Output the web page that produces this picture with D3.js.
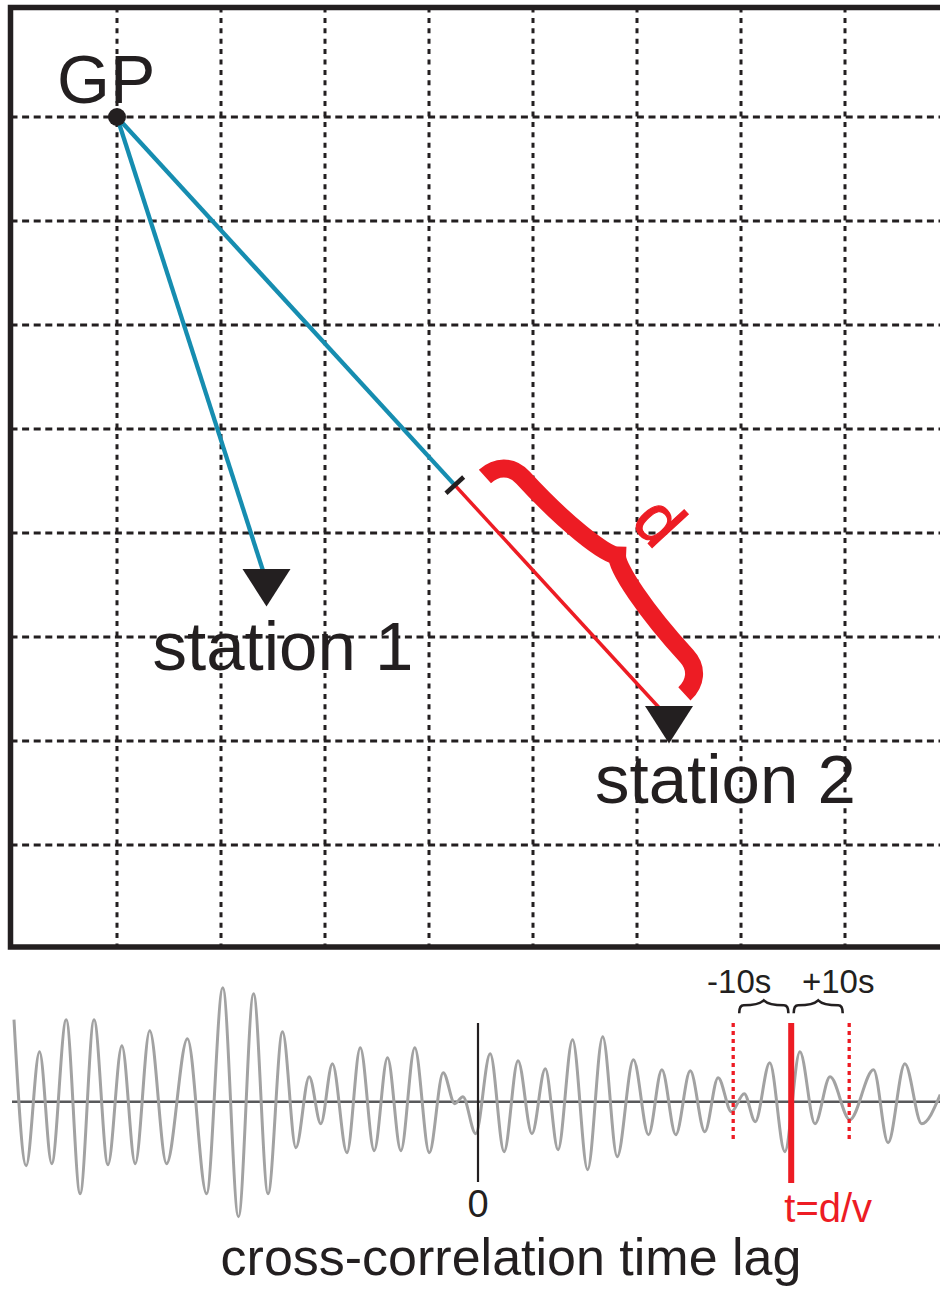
<!DOCTYPE html>
<html>
<head>
<meta charset="utf-8">
<script src="https://cdn.jsdelivr.net/npm/d3@7"></script>
<style>
  html, body { margin: 0; padding: 0; background: #fff; }
  svg { display: block; }
  text { font-family: "Liberation Sans", Arial, Helvetica, sans-serif; }
</style>
</head>
<body>
<svg id="chart" width="940" height="1289"></svg>
<script>
// ---------- data ----------
// map grid lines (grid units)
const gridLines = [1, 2, 3, 4, 5, 6, 7, 8];
// noise source (GP) position, grid units
const gpPos = [1, 1];
// stations, grid units
const stationNames = ["station 1", "station 2"];
const stationX = [2.4375, 6.3077];
const stationY = [5.4663, 6.7837];
// start of the extra path length d, as a fraction of the GP -> station 2 path
const dStartFrac = 0.612;

// cross-correlation trace: successive extrema (lag in s, normalised amplitude)
const peakLag = [-80.0, -77.9, -75.6, -73.5, -71.0, -68.6, -66.2, -63.8, -61.4, -59.1,
                 -56.6, -53.7, -50.1, -46.8, -44.0, -41.3, -38.7, -36.2, -33.7, -31.4,
                 -29.1, -27.1, -25.1, -22.6, -20.3, -17.9, -15.6, -13.3, -10.9, -8.4,
                 -6.0, -4.0, -2.6, -0.4, 2.1, 4.5, 6.9, 9.3, 11.6, 13.8,
                 16.3, 18.9, 21.5, 24.0, 26.8, 29.4, 31.7, 34.1, 36.6, 39.1,
                 41.4, 43.7, 45.9, 47.8, 50.3, 52.9, 55.5, 58.1, 60.7, 64.1,
                 68.2, 70.7, 73.6, 76.5, 79.7];
const peakAmp = [0.82, -0.64, 0.50, -0.62, 0.82, -0.92, 0.82, -0.63, 0.56, -0.62,
                 0.71, -0.62, 0.63, -0.92, 1.14, -1.15, 1.08, -0.92, 0.70, -0.46,
                 0.25, -0.22, 0.38, -0.51, 0.54, -0.49, 0.44, -0.49, 0.54, -0.51,
                 0.29, -0.02, 0.05, -0.32, 0.48, -0.50, 0.41, -0.32, 0.33, -0.48,
                 0.62, -0.68, 0.65, -0.55, 0.42, -0.33, 0.32, -0.33, 0.31, -0.30,
                 0.24, -0.10, 0.08, -0.20, 0.39, -0.50, 0.50, -0.22, 0.25, -0.18,
                 0.32, -0.41, 0.38, -0.22, 0.07];
const lagTickValues = [0];
const lagTickLabels = ["0"];
const travelLag = 54;     // t = d/v, seconds
const windowHalf = 10;    // search window, seconds
const windowLabels = ["-10s", "+10s"];

// ---------- styles ----------
const INK = "#231f20", RED = "#ed1c24", BLUE = "#168db0";

const svg = d3.select("#chart");
const W = 940;
svg.append("rect").attr("width", W).attr("height", 1289).attr("fill", "#fff");

// ---------- map panel ----------
const gx = d3.scaleLinear().domain([0, 9]).range([13, 949]);
const gy = d3.scaleLinear().domain([0, 9]).range([13, 949]);
const frame = { left: 10.5, top: 7.5, bottom: 947 };

const grid = svg.append("g").attr("stroke", INK).attr("stroke-width", 3);
grid.selectAll("line.v").data(gridLines).join("line")
  .attr("class", "v")
  .attr("x1", d => gx(d)).attr("x2", d => gx(d))
  .attr("y1", frame.top).attr("y2", frame.bottom)
  .attr("stroke-dasharray", "5,5.4");
grid.selectAll("line.h").data(gridLines).join("line")
  .attr("class", "h")
  .attr("y1", d => gy(d)).attr("y2", d => gy(d))
  .attr("x1", frame.left).attr("x2", W)
  .attr("stroke-dasharray", "7,4.6");

svg.append("path")
  .attr("d", `M${W},${frame.top}H${frame.left}V${frame.bottom}H${W}`)
  .attr("fill", "none").attr("stroke", INK).attr("stroke-width", 5.5);

const gp = [gx(gpPos[0]), gy(gpPos[1])];
const st = stationNames.map((n, i) => [gx(stationX[i]), gy(stationY[i])]);
const tick = [gp[0] + (st[1][0] - gp[0]) * dStartFrac, gp[1] + (st[1][1] - gp[1]) * dStartFrac];
const theta = Math.atan2(st[1][1] - gp[1], st[1][0] - gp[0]) * 180 / Math.PI;

// ray paths
svg.append("line")
  .attr("x1", gp[0]).attr("y1", gp[1]).attr("x2", st[0][0]).attr("y2", st[0][1])
  .attr("stroke", BLUE).attr("stroke-width", 4.3);
svg.append("line")
  .attr("x1", gp[0]).attr("y1", gp[1]).attr("x2", tick[0]).attr("y2", tick[1])
  .attr("stroke", BLUE).attr("stroke-width", 4.3);

// curly brace, drawn along x from 0 to L with the cusp raised by h (upwards = -y)
function bracePath(L, h) {
  const m = L / 2, r = 0.09 * L, a = 0.62 * h, k = 0.2 * h;
  return `M0,0C0,${-0.55 * a} ${0.35 * r},${-a} ${r},${-a}` +
         `C${r + 0.5 * (m - r)},${-a} ${m - k},${-(h - k)} ${m},${-h}` +
         `C${m + k},${-(h - k)} ${L - r - 0.5 * (m - r)},${-a} ${L - r},${-a}` +
         `C${L - 0.35 * r},${-a} ${L},${-0.55 * a} ${L},0`;
}

// extra distance d along station 2's path
const dLen = Math.hypot(st[1][0] - tick[0], st[1][1] - tick[1]);
const dg = svg.append("g").attr("transform", `translate(${tick[0]},${tick[1]}) rotate(${theta})`);
dg.append("line").attr("x1", 0).attr("y1", 0).attr("x2", dLen).attr("y2", 0)
  .attr("stroke", RED).attr("stroke-width", 3.5);
dg.append("line").attr("x1", 0).attr("y1", -12).attr("x2", 0).attr("y2", 12)
  .attr("stroke", INK).attr("stroke-width", 4.5);
dg.append("path")
  .attr("transform", "translate(14,-28)")
  .attr("d", bracePath(295, 44))
  .attr("fill", "none").attr("stroke", RED).attr("stroke-width", 18)
  .attr("stroke-linejoin", "miter").attr("stroke-miterlimit", 6);
dg.append("text")
  .attr("x", 165).attr("y", -103)
  .attr("text-anchor", "middle")
  .attr("font-size", 68).attr("fill", RED)
  .attr("stroke", RED).attr("stroke-width", 1.2)
  .text("d");

// station markers
const triW = 48, triH = 37.5;
svg.selectAll("path.station").data(st).join("path")
  .attr("class", "station")
  .attr("d", d => `M${d[0] - triW / 2},${d[1] - triH / 3}H${d[0] + triW / 2}L${d[0]},${d[1] + 2 * triH / 3}Z`)
  .attr("fill", INK);

// ground point
svg.append("circle").attr("cx", gp[0]).attr("cy", gp[1]).attr("r", 9).attr("fill", INK);
svg.append("text").attr("x", gp[0] - 60).attr("y", gp[1] - 14)
  .attr("font-size", 68).attr("fill", INK).text("GP");

const labelOffset = [[-114, 88.5], [-74, 84.5]];
svg.selectAll("text.station").data(stationNames).join("text")
  .attr("class", "station")
  .attr("x", (d, i) => st[i][0] + labelOffset[i][0])
  .attr("y", (d, i) => st[i][1] + labelOffset[i][1])
  .attr("font-size", 69).attr("fill", INK)
  .text(d => d);

// ---------- cross-correlation panel ----------
const xLag = d3.scaleLinear().domain([-80, 80]).range([14, 942]);
const yAmp = d3.scaleLinear().domain([-1, 1]).range([1201.7, 1001.7]);
const y0 = yAmp(0);

svg.append("line").attr("x1", 12).attr("x2", W).attr("y1", y0).attr("y2", y0)
  .attr("stroke", "#58595b").attr("stroke-width", 2.5);

const trace = d3.range(Math.min(peakLag.length, peakAmp.length)).map(i => [peakLag[i], peakAmp[i]]);
svg.append("path")
  .datum(trace)
  .attr("d", d3.line().x(d => xLag(d[0])).y(d => yAmp(d[1])).curve(d3.curveMonotoneX))
  .attr("fill", "none").attr("stroke", "#a2a2a2").attr("stroke-width", 3);

// zero-lag axis
svg.selectAll("line.zero").data(lagTickValues).join("line")
  .attr("class", "zero")
  .attr("x1", d => xLag(d)).attr("x2", d => xLag(d))
  .attr("y1", 1023).attr("y2", 1182)
  .attr("stroke", INK).attr("stroke-width", 2.2);
svg.selectAll("text.zero").data(lagTickValues).join("text")
  .attr("class", "zero")
  .attr("x", d => xLag(d)).attr("y", 1217)
  .attr("text-anchor", "middle").attr("font-size", 38).attr("fill", INK)
  .text((d, i) => lagTickLabels[i]);

// expected travel time and window
const xt = xLag(travelLag), xa = xLag(travelLag - windowHalf), xb = xLag(travelLag + windowHalf);
svg.selectAll("line.win").data([xa, xb]).join("line")
  .attr("class", "win")
  .attr("x1", d => d).attr("x2", d => d)
  .attr("y1", 1023).attr("y2", 1142)
  .attr("stroke", RED).attr("stroke-width", 3.3).attr("stroke-dasharray", "4,4");
svg.append("line").attr("x1", xt).attr("x2", xt).attr("y1", 1023).attr("y2", 1183)
  .attr("stroke", RED).attr("stroke-width", 6);

const braces = [[xa + 6, xt - 2.8], [xt + 2.5, xb - 6.5]];
svg.selectAll("path.win").data(braces).join("path")
  .attr("class", "win")
  .attr("transform", d => `translate(${d[0]},1013.3)`)
  .attr("d", d => bracePath(d[1] - d[0], 13))
  .attr("fill", "none").attr("stroke", INK).attr("stroke-width", 2.6);

svg.selectAll("text.win").data(windowLabels).join("text")
  .attr("class", "win")
  .attr("x", (d, i) => i === 0 ? xa + 6 : xb - 11)
  .attr("y", 993)
  .attr("text-anchor", "middle").attr("font-size", 33).attr("fill", INK)
  .text(d => d);

svg.append("text").attr("x", xt + 37).attr("y", 1222)
  .attr("text-anchor", "middle").attr("font-size", 40).attr("fill", RED)
  .text("t=d/v");

svg.append("text").attr("x", 511).attr("y", 1275)
  .attr("text-anchor", "middle").attr("font-size", 52).attr("fill", INK)
  .text("cross-correlation time lag");
</script>
</body>
</html>
